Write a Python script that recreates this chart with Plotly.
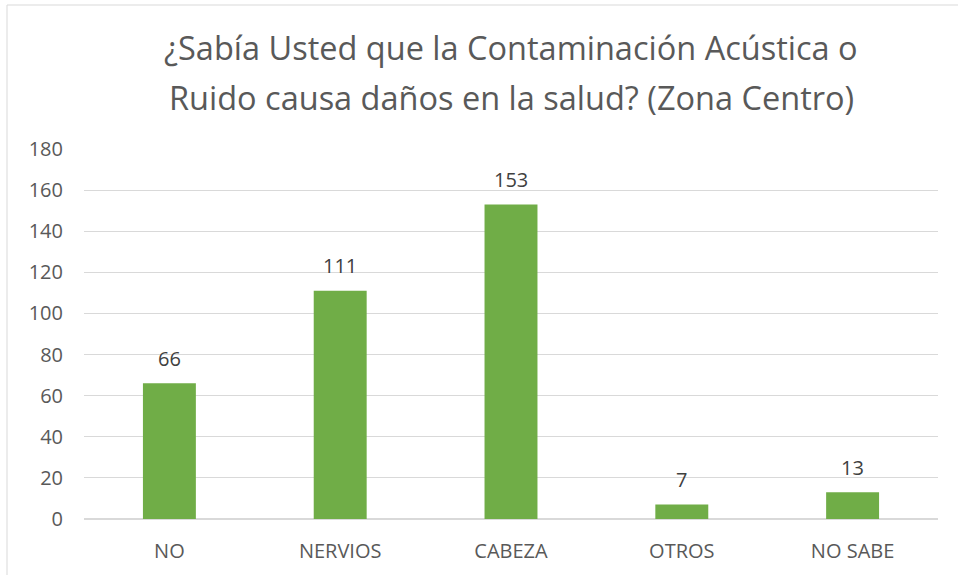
import plotly.graph_objects as go

categories = ["NO", "NERVIOS", "CABEZA", "OTROS", "NO SABE"]
values = [66, 111, 153, 7, 13]
y_ticks = [0, 20, 40, 60, 80, 100, 120, 140, 160, 180]
title_lines = ["¿Sabía Usted que la Contaminación Acústica o",
               "Ruido causa daños en la salud? (Zona Centro)"]

W, H = 958, 575
L, R, T, B = 84, 20, 149, 56
pw, ph = W - L - R, H - T - B
FONT = "Open Sans"

fig = go.Figure(go.Bar(
    x=categories, y=values,
    marker=dict(color="#70AD47", line=dict(width=0)),
    width=0.31, hoverinfo="x+y",
))

annotations = []
for c, v in zip(categories, values):
    annotations.append(dict(
        x=c, y=v, xref="x", yref="y", text=str(v), showarrow=False,
        yanchor="middle", yshift=25,
        font=dict(family=FONT, size=20, color="#404040"),
    ))
for i, (line, ypx) in enumerate(zip(title_lines, [48, 97])):
    annotations.append(dict(
        x=0.5, xref="paper", y=((H - B) - ypx) / ph, yref="paper",
        xanchor="center", yanchor="middle", showarrow=False, text=line,
        font=dict(family=FONT, size=32.5, color="#595959"),
    ))

fig.update_layout(
    width=W, height=H,
    margin=dict(l=L, r=R, t=T, b=B),
    paper_bgcolor="white", plot_bgcolor="white",
    showlegend=False,
    annotations=annotations,
    xaxis=dict(
        showgrid=False, showline=False, zeroline=False, ticks="",
        tickfont=dict(family=FONT, size=20, color="#595959"),
        ticklabelstandoff=18,
    ),
    yaxis=dict(
        range=[0, 180], tickvals=y_ticks, showgrid=True, gridcolor="#D9D9D9",
        gridwidth=1, zeroline=True, zerolinecolor="#D9D9D9", showline=False,
        ticks="", tickfont=dict(family=FONT, size=20, color="#595959"),
        ticklabelstandoff=20,
    ),
    shapes=[dict(
        type="rect", xref="paper", yref="paper",
        x0=(7 - L) / pw, x1=(W + 5 - L) / pw,
        y0=-(H + 5 - (H - B)) / ph, y1=((H - B) - 5) / ph,
        line=dict(color="#D9D9D9", width=1), fillcolor="rgba(0,0,0,0)",
        layer="below",
    )],
)

fig.write_html("out.html", config={"displayModeBar": False},
               post_script="document.body.style.margin='0';")
